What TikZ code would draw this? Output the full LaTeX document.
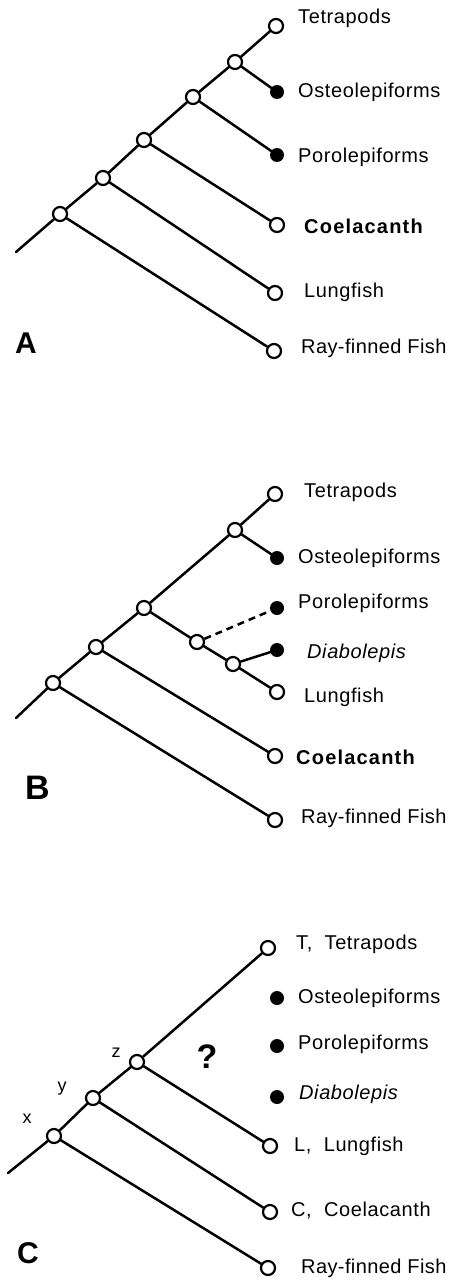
\documentclass[tikz,border=0pt]{standalone}
\usepackage{fontspec}
\setmainfont{Liberation Sans}[LetterSpace=3]
\begin{document}
\begin{tikzpicture}[
		x=1pt, y=-1pt, line join=round, line cap=round,
		every node/.style={font=\fontsize{20}{24}\selectfont},
		branch/.style={line width=2.5pt},
		opendot/.style={circle, draw, line width=2.2pt, fill=white, minimum size=14pt, inner sep=0pt},
		filldot/.style={circle, fill=black, minimum size=14pt, inner sep=0pt},
		taxon/.style={anchor=west, inner sep=0pt, text height=0.72em, text depth=0pt},
		boldtaxon/.style={taxon, font=\fontsize{20}{24}\selectfont\bfseries\addfontfeature{LetterSpace=6}},
		ittaxon/.style={taxon, font=\fontsize{20}{24}\selectfont\itshape},
		raytaxon/.style={taxon, font=\fontsize{20}{24}\selectfont\addfontfeature{LetterSpace=2}},
		panel/.style={font=\fontsize{30}{36}\selectfont\bfseries, anchor=west, inner sep=0pt, text height=0.72em, text depth=0pt},
		vtx/.style={font=\fontsize{18}{22}\selectfont, inner sep=0pt}
		]
		\useasboundingbox (0,0) rectangle (451,1284);
		
		% 1. PANEL A
		\coordinate (a0) at (16,252);
		\node[opendot] (a1) at (60,214) {};
		\node[opendot] (a2) at (103,178) {};
		\node[opendot] (a3) at (144,140) {};
		\node[opendot] (a4) at (193,97) {};
		\node[opendot] (a5) at (235,62) {};
		\node[opendot] (aT) at (276,26) {};
		\node[filldot] (aO) at (277,92) {};
		\node[filldot] (aP) at (277,155) {};
		\node[opendot] (aC) at (277,225) {};
		\node[opendot] (aL) at (275,293) {};
		\node[opendot] (aR) at (274,351) {};
		
		\draw[branch] (a0) -- (a1) -- (a2) -- (a3) -- (a4) -- (a5) -- (aT);
		\draw[branch] (a5) -- (aO);
		\draw[branch] (a4) -- (aP);
		\draw[branch] (a3) -- (aC);
		\draw[branch] (a2) -- (aL);
		\draw[branch] (a1) -- (aR);
		
		\node[taxon] (aTl) at (298,20) {Tetrapods};
		\node[taxon] (aOl) at (298,94) {Osteolepiforms};
		\node[taxon] (aPl) at (298,159) {Porolepiforms};
		\node[boldtaxon] (aCl) at (304,230) {Coelacanth};
		\node[taxon] (aLl) at (304,294) {Lungfish};
		\node[raytaxon] (aRl) at (301,350) {Ray-finned Fish};
		\node[panel] (pA) at (15,350) {A};
		
		% 2. PANEL B
		\coordinate (b0) at (16,718);
		\node[opendot] (b1) at (53,683) {};
		\node[opendot] (b2) at (96,647) {};
		\node[opendot] (b3) at (144,608) {};
		\node[opendot] (b5) at (235,530) {};
		\node[opendot] (bT) at (275,494) {};
		\node[filldot] (bO) at (277,558) {};
		\node[opendot] (b4) at (197,642) {};
		\node[filldot] (bP) at (277,608) {};
		\node[opendot] (b6) at (233,664) {};
		\node[filldot] (bD) at (277,650) {};
		\node[opendot] (bL) at (277,692) {};
		\node[opendot] (bC) at (275,756) {};
		\node[opendot] (bR) at (275,820) {};
		
		\draw[branch] (b0) -- (b1) -- (b2) -- (b3) -- (b5) -- (bT);
		\draw[branch] (b5) -- (bO);
		\draw[branch] (b3) -- (b4) -- (b6) -- (bL);
		\draw[branch, dashed, dash pattern=on 7pt off 5pt, line cap=butt] (b4) -- (bP);
		\draw[branch] (b6) -- (bD);
		\draw[branch] (b2) -- (bC);
		\draw[branch] (b1) -- (bR);
		
		\node[taxon] (bTl) at (304,494) {Tetrapods};
		\node[taxon] (bOl) at (298,560) {Osteolepiforms};
		\node[taxon] (bPl) at (298,605) {Porolepiforms};
		\node[ittaxon] (bDl) at (307,655) {Diabolepis};
		\node[taxon] (bLl) at (304,699) {Lungfish};
		\node[boldtaxon] (bCl) at (296,761) {Coelacanth};
		\node[raytaxon] (bRl) at (301,820) {Ray-finned Fish};
		\node[panel, font=\fontsize{34}{40}\selectfont\bfseries] (pB) at (25,796) {B};
		
		% 3. PANEL C
		\coordinate (c0) at (8,1173);
		\node[opendot] (cx) at (54,1136) {};
		\node[opendot] (cy) at (93,1098) {};
		\node[opendot] (cz) at (137,1062) {};
		\node[opendot] (cT) at (268,948) {};
		\node[filldot] (cO) at (277,998) {};
		\node[filldot] (cP) at (277,1046) {};
		\node[filldot] (cD) at (277,1097) {};
		\node[opendot] (cL) at (270,1146) {};
		\node[opendot] (cC) at (270,1212) {};
		\node[opendot] (cR) at (268,1268) {};
		
		\draw[branch] (c0) -- (cx) -- (cy) -- (cz) -- (cT);
		\draw[branch] (cz) -- (cL);
		\draw[branch] (cy) -- (cC);
		\draw[branch] (cx) -- (cR);
		
		\node[vtx] (cxl) at (27,1119) {x};
		\node[vtx] (cyl) at (62,1089) {y};
		\node[vtx] (czl) at (116,1053) {z};
		\node[font=\fontsize{34}{40}\selectfont\bfseries, inner sep=0pt] (cq) at (207,1057) {?};
		
		\node[taxon] (cTl) at (296,946) {T,\ \ Tetrapods};
		\node[taxon] (cOl) at (298,1000) {Osteolepiforms};
		\node[taxon] (cPl) at (298,1046) {Porolepiforms};
		\node[ittaxon] (cDl) at (299,1096) {Diabolepis};
		\node[taxon] (cLl) at (294,1148) {L,\ \ Lungfish};
		\node[taxon] (cCl) at (291,1213) {C,\ \ Coelacanth};
		\node[raytaxon] (cRl) at (301,1270) {Ray-finned Fish};
		\node[panel] (pC) at (17,1260) {C};
		
	\end{tikzpicture}
\end{document}
